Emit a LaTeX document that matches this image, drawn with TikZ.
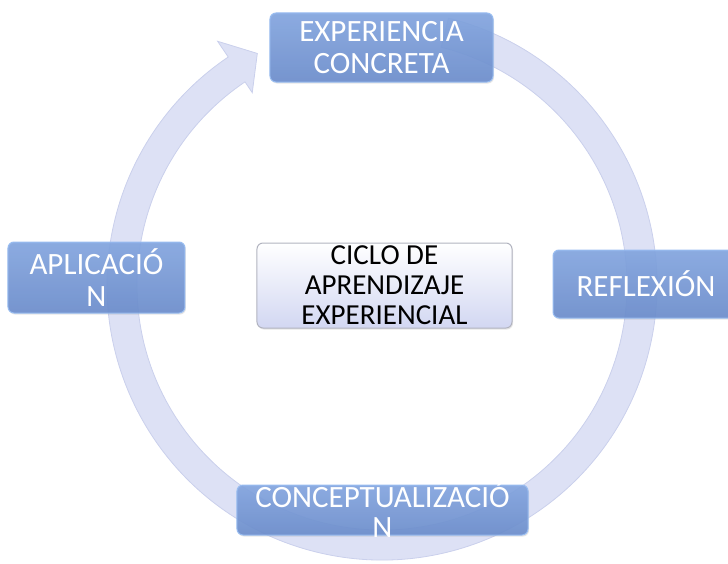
\documentclass[tikz,border=0pt]{standalone}
\usepackage{fontspec}
\setmainfont{Carlito}
\usepackage{tikz}
\usetikzlibrary{positioning,shadows}
\definecolor{ringfill}{RGB}{221,225,245}
\definecolor{ringline}{RGB}{202,208,236}
\definecolor{boxtop}{RGB}{130,165,224}
\definecolor{boxbottom}{RGB}{106,140,204}
\definecolor{boxline}{RGB}{152,188,240}
\definecolor{coretop}{RGB}{255,255,255}
\definecolor{corebottom}{RGB}{210,215,242}
\definecolor{coreline}{RGB}{178,180,192}
\tikzset{
  basic/.style     = {draw, rounded corners=6pt, align=center, inner sep=0pt,
                      drop shadow={opacity=0.2, shadow xshift=1pt, shadow yshift=-1.5pt}},
  stage/.style     = {basic, draw=boxline, line width=1pt, top color=boxtop,
                      bottom color=boxbottom, fill opacity=0.9, text opacity=1,
                      text=white, font=\fontsize{31}{32}\selectfont},
  stagetext/.style = {align=center, text=white, inner sep=0pt,
                      font=\fontsize{31}{30}\selectfont},
  core/.style      = {basic, draw=coreline, line width=1pt, top color=coretop,
                      bottom color=corebottom, text=black,
                      font=\fontsize{29}{30}\selectfont}
}
\begin{document}
\begin{tikzpicture}[x=1pt, y=1pt]
\useasboundingbox (-382,-278) rectangle (346,285);

% the ring arrow, first, so that the boxes lie over it
\path[fill=ringfill, draw=ringline, line width=0.8pt]
  (76:275pt) arc[start angle=76, end angle=-236, radius=275pt]
  -- (-236:294pt) -- (-241.7:263pt) -- (-236:232pt) -- (-236:245pt)
  arc[start angle=-236, end angle=76, radius=245pt] -- cycle;

% the four stages round the ring
\node[stage, minimum width=223pt, minimum height=69pt] (c1) at (-0.5,237.5) {EXPERIENCIA\\CONCRETA};
\node[stage, minimum width=186pt, minimum height=68pt] (c2) at (264,1) {REFLEXIÓN};
\node[stage, minimum width=291pt, minimum height=50pt,
      label={[stagetext]center:CONCEPTUALIZACIÓ\\N}] (c3) at (0.5,-225) {};
\node[stage, minimum width=177pt, minimum height=71pt] (c4) at (-285.5,7.5) {APLICACIÓ\\N};

% the centre
\node[core, minimum width=255pt, minimum height=85pt] (c0) at (2.5,-0.5) {CICLO DE\\APRENDIZAJE\\EXPERIENCIAL};

\end{tikzpicture}
\end{document}
